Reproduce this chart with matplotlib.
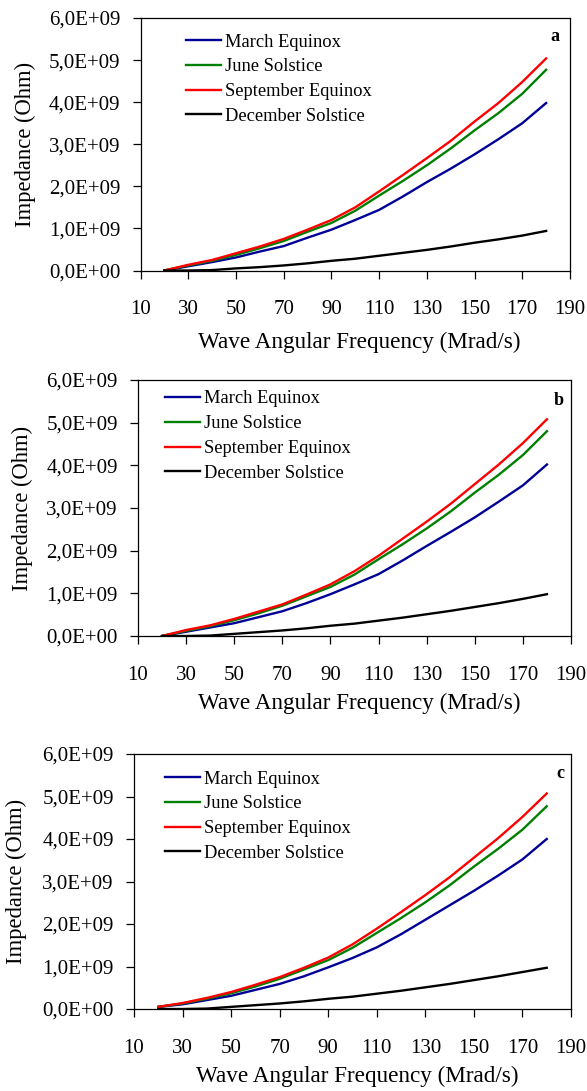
"""
Impedance vs wave angular frequency for the four seasonal cases, three panels (a, b, c).
"""

import matplotlib

matplotlib.use("Agg")
from matplotlib import pyplot as plt
from matplotlib.ticker import FuncFormatter
import numpy as np

# wave angular frequency (Mrad/s)
freq = [20, 30, 40, 50, 60, 70, 80, 90, 100, 110, 120, 130, 140, 150, 160, 170, 180]

# impedance, in units of 1E+09 Ohm
# panel a
march_a = [0.0, 0.10, 0.20, 0.31, 0.45, 0.58, 0.78, 0.97, 1.20, 1.44, 1.76, 2.10, 2.42, 2.76, 3.12, 3.50, 3.98]
june_a = [0.0, 0.12, 0.23, 0.37, 0.53, 0.70, 0.92, 1.13, 1.42, 1.78, 2.13, 2.50, 2.90, 3.33, 3.74, 4.20, 4.77]
sept_a = [0.0, 0.135, 0.25, 0.41, 0.57, 0.75, 0.97, 1.20, 1.50, 1.88, 2.27, 2.67, 3.08, 3.54, 3.98, 4.48, 5.04]
dec_a = [0.0, 0.0, 0.01, 0.05, 0.08, 0.12, 0.17, 0.23, 0.28, 0.35, 0.42, 0.49, 0.57, 0.66, 0.74, 0.83, 0.94]

# panel b
march_b = [0.0, 0.10, 0.20, 0.30, 0.44, 0.58, 0.77, 0.98, 1.21, 1.45, 1.77, 2.11, 2.44, 2.78, 3.15, 3.53, 4.02]
june_b = [0.0, 0.12, 0.23, 0.37, 0.53, 0.71, 0.93, 1.15, 1.44, 1.80, 2.15, 2.52, 2.92, 3.36, 3.78, 4.24, 4.80]
sept_b = [0.0, 0.14, 0.25, 0.40, 0.57, 0.74, 0.97, 1.21, 1.52, 1.88, 2.28, 2.68, 3.10, 3.56, 4.02, 4.52, 5.08]
dec_b = [0.0, 0.0, 0.01, 0.05, 0.09, 0.13, 0.18, 0.24, 0.29, 0.36, 0.43, 0.51, 0.59, 0.68, 0.77, 0.87, 0.98]

# panel c
march_c = [0.05, 0.11, 0.21, 0.31, 0.45, 0.59, 0.77, 0.98, 1.20, 1.45, 1.76, 2.10, 2.44, 2.78, 3.14, 3.52, 4.00]
june_c = [0.05, 0.13, 0.24, 0.37, 0.53, 0.71, 0.93, 1.15, 1.44, 1.79, 2.14, 2.51, 2.91, 3.35, 3.77, 4.22, 4.77]
sept_c = [0.05, 0.14, 0.26, 0.40, 0.57, 0.75, 0.97, 1.21, 1.52, 1.89, 2.28, 2.68, 3.10, 3.56, 4.02, 4.52, 5.07]
dec_c = [0.0, 0.0, 0.01, 0.05, 0.09, 0.13, 0.18, 0.24, 0.29, 0.36, 0.43, 0.51, 0.59, 0.68, 0.77, 0.87, 0.97]

season_names = ["March Equinox", "June Solstice", "September Equinox", "December Solstice"]
season_colors = ["#000096", "#008000", "#ff0000", "#000000"]

xticks = [10, 30, 50, 70, 90, 110, 130, 150, 170, 190]
yticks = [0, 1e9, 2e9, 3e9, 4e9, 5e9, 6e9]

plt.rcParams["font.family"] = ["Liberation Serif", "DejaVu Serif"]

W, H = 587, 1091
fig = plt.figure(figsize=(W / 100, H / 100), dpi=100)


def px_axes(left, right, top, bottom):
    """Axes from pixel edges of the picture."""
    return fig.add_axes([left / W, 1 - bottom / H, (right - left) / W, (bottom - top) / H])


def sci_comma(v, pos):
    if v == 0:
        return "0,0E+00"
    return f"{v / 1e9:.1f}".replace(".", ",") + "E+09"


def draw_panel(ax, series, letter, legend_xy, letter_xy, xlabel_y):
    for vals, name, color in zip(series, season_names, season_colors):
        ax.plot(freq, np.array(vals) * 1e9, color=color, lw=1.7, label=name)

    ax.set_xlim(10, 190)
    ax.set_ylim(0, 6e9)
    ax.set_xticks(xticks)
    ax.set_yticks(yticks)
    ax.yaxis.set_major_formatter(FuncFormatter(sci_comma))
    ax.tick_params(axis="both", direction="out", length=5.5, width=0.9, labelsize=15, color="black")
    ax.tick_params(axis="x", pad=16)
    ax.tick_params(axis="y", pad=9)
    for sp in ax.spines.values():
        sp.set_linewidth(0.9)

    ax.set_xlabel("Wave Angular Frequency (Mrad/s)", fontsize=16.7, va="center")
    ax.xaxis.set_label_coords(0.51, xlabel_y)
    ax.set_ylabel("Impedance (Ohm)", fontsize=16.3, va="center")
    ax.yaxis.set_label_coords(-0.268, 0.5)

    ax.legend(
        loc="upper left",
        bbox_to_anchor=legend_xy,
        frameon=False,
        fontsize=13.3,
        borderaxespad=0,
        borderpad=0,
        handlelength=1.9,
        handletextpad=0.2,
        labelspacing=0.42,
    )
    ax.text(letter_xy[0], letter_xy[1], letter, transform=ax.transAxes,
            fontsize=13, fontweight="bold", ha="center", va="center")


ax_a = px_axes(140.5, 570, 18, 270.5)
draw_panel(ax_a, [march_a, june_a, sept_a, dec_a], "a", (0.106, 0.938), (0.965, 0.925), -0.285)

ax_b = px_axes(138, 571, 380, 636)
draw_panel(ax_b, [march_b, june_b, sept_b, dec_b], "b", (0.062, 0.959), (0.972, 0.918), -0.265)

ax_c = px_axes(134, 571, 754, 1009)
draw_panel(ax_c, [march_c, june_c, sept_c, dec_c], "c", (0.071, 0.935), (0.976, 0.925), -0.265)

fig.savefig("out.png", dpi=100)
